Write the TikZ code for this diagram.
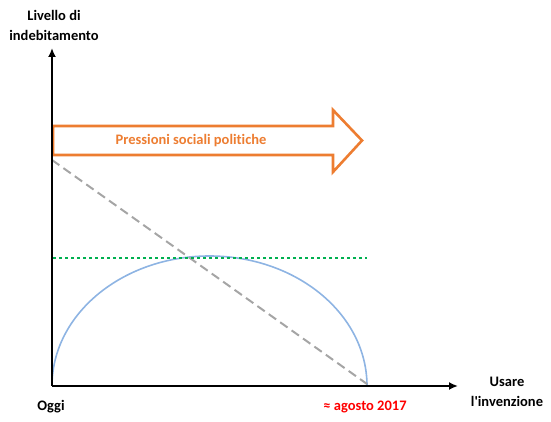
\documentclass[tikz,border=0pt]{standalone}
\usepackage{fontspec}
\setmainfont{Carlito}[Ligatures={NoCommon}]
\usetikzlibrary{arrows.meta,positioning}
\definecolor{AxOrange}{HTML}{ED7D31}
\definecolor{AxGray}{HTML}{A5A5A5}
\definecolor{AxGreen}{HTML}{00B050}
\definecolor{AxBlue}{HTML}{8EB4E3}
\definecolor{AxRed}{HTML}{FF0000}

\begin{document}
\begin{tikzpicture}[x=1pt,y=1pt]
    \tikzset{lbl/.style={font=\fontsize{14.5}{17}\selectfont\bfseries,inner sep=0pt,align=center},
      ax/.style={line width=2.6pt,-{Latex[length=9pt,width=8pt]}}}
    \useasboundingbox (-52,-36) rectangle (499,386);
    \coordinate (o) at (0,0);
    \coordinate (ytop) at (0,338);
    \coordinate (xend) at (406,0);
    \coordinate (g0) at (1,128);
    \coordinate (g1) at (315,128);
    \coordinate (d0) at (0,226);
    \coordinate (d1) at (315,2);
    % curve and guide lines
    \draw[AxBlue,line width=1.6pt] (315,0) arc[start angle=0,end angle=180,x radius=157.5,y radius=130];
    \draw[AxGray,line width=2pt,dash pattern=on 9pt off 5pt] (d0)--(d1);
    \draw[AxGreen,line width=2.6pt,dash pattern=on 3pt off 3pt] (g0)--(g1);
    % pressure arrow
    \draw[AxOrange,line width=2.6pt,fill=white] (1,231)--(281,231)--(281,214)--(310,245.5)--(281,276)--(281,260)--(1,260)--cycle;
    \node[lbl,text=AxOrange] (p) at (139,245) {Pressioni sociali politiche};
    % axes
    \draw[ax] (o)--(ytop);
    \draw[ax] (o)--(xend);
    \node[lbl] (ylab) at (2,361) {Livello di\\[3pt]indebitamento};
    \node[lbl] (xlab) at (455,-6) {Usare\\[3pt]l\textquotesingle invenzione};
    \node[lbl] (t0) at (-1,-21) {Oggi};
    \node[lbl,text=AxRed] (t1) at (313,-21) {≈ agosto 2017};
  \end{tikzpicture}
\end{document}
